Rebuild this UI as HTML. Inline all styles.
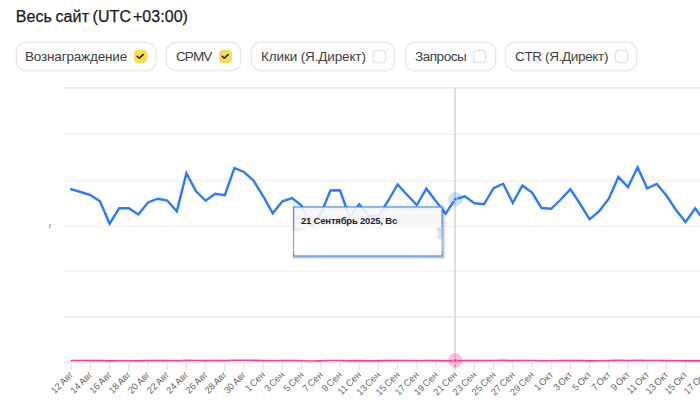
<!DOCTYPE html>
<html><head><meta charset="utf-8"><style>
html,body{margin:0;padding:0;background:#fff;}
body{width:700px;height:414px;overflow:hidden;position:relative;font-family:"Liberation Sans",sans-serif;}
.title{position:absolute;left:15.7px;top:6.6px;letter-spacing:0.12px;word-spacing:-1.2px;font-size:16px;line-height:20px;color:#1a1a1a;white-space:nowrap;-webkit-text-stroke:0.25px #1a1a1a;}
.chip{position:absolute;top:42px;height:27px;border:1px solid #e7e8ee;box-shadow:0 0 1.5px #d6d8e2;border-radius:10px;background:#fff;box-sizing:content-box;}
.chip span{position:absolute;left:9px;top:0;line-height:27px;font-size:13.5px;color:#404040;white-space:nowrap;}
.cb{position:absolute;top:7px;width:13px;height:13px;border-radius:4px;box-sizing:border-box;}
.cb.on{background:#fbdb50;}
.cb.off{border:1px solid #e3e3ea;box-shadow:0 0 1.5px #d4d4de;background:#fff;}
svg{position:absolute;left:0;top:0;}
.tip{position:absolute;left:294px;top:207px;width:147px;height:48px;}

.tip b{position:absolute;left:7px;top:7.6px;font-size:9.5px;line-height:12px;letter-spacing:-0.2px;color:#222;white-space:nowrap;}
</style></head><body>
<div class="title">Весь сайт (UTC<span style="letter-spacing:-2.6px;word-spacing:0"> </span><span style="letter-spacing:0.03px">+03:00)</span></div>
<div class="chip" style="left:16px;width:138px"><span style="left:8px;letter-spacing:-0.17px">Вознаграждение</span><i class="cb on" style="left:117px"><svg width="13" height="13" viewBox="0 0 13 13"><path d="M3.1 6.2L5.3 8.2L9.1 4.6" fill="none" stroke="#1a1a1a" stroke-width="1.5" stroke-linecap="round" stroke-linejoin="round"/></svg></i></div>
<div class="chip" style="left:166px;width:73px"><span style="letter-spacing:-0.9px">CPMV</span><i class="cb on" style="left:52px"><svg width="13" height="13" viewBox="0 0 13 13"><path d="M3.1 6.2L5.3 8.2L9.1 4.6" fill="none" stroke="#1a1a1a" stroke-width="1.5" stroke-linecap="round" stroke-linejoin="round"/></svg></i></div>
<div class="chip" style="left:251px;width:142px"><span style="letter-spacing:-0.135px">Клики (Я.Директ)</span><i class="cb off" style="left:121px"></i></div>
<div class="chip" style="left:405px;width:89px"><span style="letter-spacing:-0.46px">Запросы</span><i class="cb off" style="left:67px"></i></div>
<div class="chip" style="left:505px;width:130px"><span style="letter-spacing:-0.35px">CTR (Я.Директ)</span><i class="cb off" style="left:109px"></i></div>
<svg width="700" height="414" viewBox="0 0 700 414"><defs><filter id="bl" x="-5%" y="-20%" width="110%" height="140%"><feGaussianBlur stdDeviation="0.8"/></filter></defs>
<g stroke="#ededed" stroke-width="1" fill="none"><path d="M64 134.5H700"/><path d="M64 180.5H700"/><path d="M64 226.5H700"/><path d="M64 271.2H700"/><path d="M64 87.9H700M64 317H700" stroke="#e6e6e6" stroke-width="1.3"/></g>
<path d="M64 362.5H700" stroke="#d9e6f1" stroke-width="1" fill="none"/>
<g stroke="#cdd6ea" stroke-width="0.8" fill="none"><path d="M71.2 362.5V370"/><path d="M90.4 362.5V370"/><path d="M109.6 362.5V370"/><path d="M128.8 362.5V370"/><path d="M148.0 362.5V370"/><path d="M167.2 362.5V370"/><path d="M186.4 362.5V370"/><path d="M205.6 362.5V370"/><path d="M224.8 362.5V370"/><path d="M244.0 362.5V370"/><path d="M263.2 362.5V370"/><path d="M282.4 362.5V370"/><path d="M301.6 362.5V370"/><path d="M320.8 362.5V370"/><path d="M340.0 362.5V370"/><path d="M359.2 362.5V370"/><path d="M378.4 362.5V370"/><path d="M397.6 362.5V370"/><path d="M416.8 362.5V370"/><path d="M436.0 362.5V370"/><path d="M455.2 362.5V370"/><path d="M474.4 362.5V370"/><path d="M493.6 362.5V370"/><path d="M512.8 362.5V370"/><path d="M532.0 362.5V370"/><path d="M551.2 362.5V370"/><path d="M570.4 362.5V370"/><path d="M589.6 362.5V370"/><path d="M608.8 362.5V370"/><path d="M628.0 362.5V370"/><path d="M647.2 362.5V370"/><path d="M666.4 362.5V370"/><path d="M685.6 362.5V370"/><path d="M704.8 362.5V370"/></g>
<path d="M455.05 88V370" stroke="#d0d0d0" stroke-width="1.4" fill="none"/>
<path d="M49.5 227.8L50.3 224.6" stroke="#8c94b4" stroke-width="1.1" stroke-linecap="round" fill="none"/>
<polyline points="71.2,189.25 80.8,192 90.4,195 100.0,201.25 109.6,223.75 119.2,208.25 128.8,208.25 138.4,214.5 148.0,202.5 157.6,198.75 167.2,200.5 176.8,211.25 186.4,173.25 196.0,191.25 205.6,200.75 215.2,193.75 224.8,195.25 234.4,168 244.0,172 253.6,180.7 263.2,196.25 272.8,213.25 282.4,201.25 292.0,198 301.6,205.5 311.2,227 320.8,214 330.4,190.5 340.0,190.25 349.6,217.5 359.2,204.25 368.8,216 378.4,216.5 388.0,201 397.6,184.5 407.2,195 416.8,205 426.4,188.75 436.0,201.25 445.6,213.75 455.2,199.25 464.8,196.25 474.4,203.25 484.0,204.25 493.6,188.25 503.2,183.75 512.8,203 522.4,185.5 532.0,192.5 541.6,208 551.2,208.75 560.8,199.5 570.4,189.25 580.0,203.75 589.6,219.3 599.2,211.2 608.8,198.7 618.4,176.9 628.0,187.1 637.6,167.3 647.2,188.3 656.8,183.9 666.4,195.5 676.0,210 685.6,222 695.2,208.3 704.8,221.6" fill="none" stroke="#2a7bff" stroke-width="2.4" stroke-linejoin="miter" stroke-miterlimit="6" stroke-linecap="round"/>
<polyline points="71.2,360.51 80.8,360.54 90.4,360.58 100.0,360.65 109.6,360.93 119.2,360.74 128.8,360.74 138.4,360.81 148.0,360.67 157.6,360.62 167.2,360.65 176.8,360.77 186.4,360.32 196.0,360.53 205.6,360.65 215.2,360.56 224.8,360.58 234.4,360.26 244.0,360.3 253.6,360.41 263.2,360.59 272.8,360.8 282.4,360.65 292.0,360.62 301.6,360.71 311.2,360.96 320.8,360.81 330.4,360.53 340.0,360.52 349.6,360.85 359.2,360.69 368.8,360.83 378.4,360.84 388.0,360.65 397.6,360.45 407.2,360.58 416.8,360.7 426.4,360.5 436.0,360.65 445.6,360.81 455.2,360.63 464.8,360.59 474.4,360.68 484.0,360.69 493.6,360.5 503.2,360.44 512.8,360.68 522.4,360.47 532.0,360.55 541.6,360.74 551.2,360.75 560.8,360.63 570.4,360.51 580.0,360.69 589.6,360.87 599.2,360.77 608.8,360.62 618.4,360.36 628.0,360.49 637.6,360.25 647.2,360.5 656.8,360.45 666.4,360.59 676.0,360.76 685.6,360.9 695.2,360.74 704.8,360.9" fill="none" stroke="#ff3b8d" stroke-width="1.65" stroke-linejoin="round" stroke-linecap="round"/>
<circle cx="455.3" cy="199.2" r="7.3" fill="#2a7bff" fill-opacity="0.22"/>
<circle cx="455.3" cy="199.2" r="2.1" fill="#2a7bff" stroke="#fff" stroke-opacity="0.8" stroke-width="0.9"/>
<circle cx="455.2" cy="360.6" r="7.3" fill="#ff3b8d" fill-opacity="0.32"/>
<circle cx="455.2" cy="360.6" r="2" fill="#ff3b8d" stroke="#fff" stroke-opacity="0.7" stroke-width="0.8"/>
<g transform="translate(293.6,207)">
<rect x="1" y="1" width="148.5" height="49" fill="none" stroke="#000" stroke-opacity="0.05" stroke-width="5"/>
<rect x="1" y="1" width="148.5" height="49" fill="none" stroke="#000" stroke-opacity="0.10" stroke-width="3"/>
<rect x="1" y="1" width="148.5" height="49" fill="none" stroke="#000" stroke-opacity="0.15" stroke-width="1"/>
<rect x="0" y="0" width="148.5" height="49" fill="#f7f7f7" fill-opacity="0.9" stroke="#4f93ee" stroke-width="1.2"/>
<g filter="url(#bl)"><path d="M0.6 25.5L4 24.5L15 21.5L141 21L143 23L144 31L148 33V45.5H0.6Z" fill="#fff"/>
<path d="M143 21.5L148 20.5V32L144 31.5L146 26Z" fill="#d2d2d2"/>
<path d="M1 21.5L14 21.5L3 24L1 25Z" fill="#e6e6e6"/></g>
</g>
<g font-family="Liberation Sans, sans-serif" font-size="9.4" fill="#67676c" text-anchor="end" word-spacing="-1"><text transform="translate(73.7,375.3) rotate(-45)">12 Авг</text><text transform="translate(92.9,375.3) rotate(-45)">14 Авг</text><text transform="translate(112.1,375.3) rotate(-45)">16 Авг</text><text transform="translate(131.3,375.3) rotate(-45)">18 Авг</text><text transform="translate(150.5,375.3) rotate(-45)">20 Авг</text><text transform="translate(169.7,375.3) rotate(-45)">22 Авг</text><text transform="translate(188.9,375.3) rotate(-45)">24 Авг</text><text transform="translate(208.1,375.3) rotate(-45)">26 Авг</text><text transform="translate(227.3,375.3) rotate(-45)">28 Авг</text><text transform="translate(246.5,375.3) rotate(-45)">30 Авг</text><text transform="translate(265.7,375.3) rotate(-45)">1 Сен</text><text transform="translate(284.9,375.3) rotate(-45)">3 Сен</text><text transform="translate(304.1,375.3) rotate(-45)">5 Сен</text><text transform="translate(323.3,375.3) rotate(-45)">7 Сен</text><text transform="translate(342.5,375.3) rotate(-45)">9 Сен</text><text transform="translate(361.7,375.3) rotate(-45)">11 Сен</text><text transform="translate(380.9,375.3) rotate(-45)">13 Сен</text><text transform="translate(400.1,375.3) rotate(-45)">15 Сен</text><text transform="translate(419.3,375.3) rotate(-45)">17 Сен</text><text transform="translate(438.5,375.3) rotate(-45)">19 Сен</text><text transform="translate(457.7,375.3) rotate(-45)">21 Сен</text><text transform="translate(476.9,375.3) rotate(-45)">23 Сен</text><text transform="translate(496.1,375.3) rotate(-45)">25 Сен</text><text transform="translate(515.3,375.3) rotate(-45)">27 Сен</text><text transform="translate(534.5,375.3) rotate(-45)">29 Сен</text><text transform="translate(553.7,375.3) rotate(-45)">1 Окт</text><text transform="translate(572.9,375.3) rotate(-45)">3 Окт</text><text transform="translate(592.1,375.3) rotate(-45)">5 Окт</text><text transform="translate(611.3,375.3) rotate(-45)">7 Окт</text><text transform="translate(630.5,375.3) rotate(-45)">9 Окт</text><text transform="translate(649.7,375.3) rotate(-45)">11 Окт</text><text transform="translate(668.9,375.3) rotate(-45)">13 Окт</text><text transform="translate(688.1,375.3) rotate(-45)">15 Окт</text><text transform="translate(707.3,375.3) rotate(-45)">17 Окт</text></g>
</svg>
<div class="tip"><b>21 Сентябрь 2025, Вс</b></div>
</body></html>
